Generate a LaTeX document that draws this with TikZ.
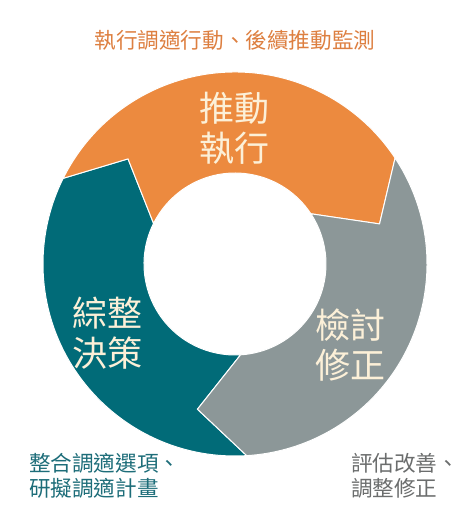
\documentclass[tikz,border=0pt]{standalone}
\usepackage{fontspec}
\newfontfamily\cjk{Noto Sans CJK TC}
\usetikzlibrary{positioning}

\definecolor{ringorange}{HTML}{EC8A3F}
\definecolor{ringteal}{HTML}{016B78}
\definecolor{ringgray}{HTML}{8C9798}
\definecolor{cream}{HTML}{FCF0D8}
\definecolor{noteorange}{HTML}{DD7F40}
\definecolor{noteteal}{HTML}{1D6D79}
\definecolor{notegray}{HTML}{6B6D6D}

\begin{document}
\begin{tikzpicture}[
    segment/.style={draw=white, line width=1pt, line join=miter},
    stage/.style={font=\cjk\fontsize{35}{40}\selectfont, text=cream, align=center, inner sep=0pt},
    note/.style={font=\cjk\fontsize{21.6}{25}\selectfont, align=left, inner sep=0pt}
]
\useasboundingbox (-235pt,-264pt) rectangle (234pt,264pt);

\foreach \h/\col in {153.5/ringteal, 33.5/ringorange, -86.5/ringgray}{
    \fill[segment, fill=\col] ({\h+120}:192pt) arc[start angle={\h+120}, end angle=\h, radius=192pt]
        -- ({\h-18}:150pt) -- (\h:91pt) arc[start angle=\h, end angle={\h+120}, radius=91pt]
        -- ({\h+102}:150pt) -- cycle;
}

\node[stage] (act) at (0pt,136pt) {推動\\執行};
\node[stage] (plan) at (-127pt,-69pt) {綜整\\決策};
\node[stage] (check) at (116pt,-81pt) {檢討\\修正};

\node[note, text=noteorange] (actnote) at (0pt,224pt) {執行調適行動、後續推動監測};
\node[note, text=noteteal, anchor=west] (plannote) at (-206pt,-211.5pt) {整合調適選項、\\研擬調適計畫};
\node[note, text=notegray, anchor=west] (checknote) at (116pt,-211.5pt) {評估改善、\\調整修正};
\end{tikzpicture}
\end{document}
